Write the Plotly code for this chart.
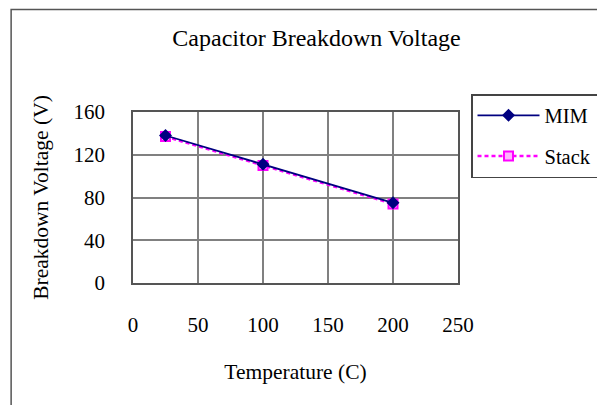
import plotly.graph_objects as go

temperature = [25, 100, 200]
mim_voltage = [138, 111, 75]
stack_voltage = [137, 110, 74]

x_ticks = [0, 50, 100, 150, 200, 250]
y_ticks = [0, 40, 80, 120, 160]

FONT = "Liberation Serif, Times New Roman, serif"

fig = go.Figure()
fig.add_trace(go.Scatter(
    x=temperature, y=stack_voltage, name="Stack", mode="lines+markers",
    line=dict(color="#ff00ff", width=2.5, dash="4px,3px"),
    marker=dict(symbol="square", size=9, color="#ffb3ff",
                line=dict(color="#ff00ff", width=2)),
    legendrank=2, legendgroup="b",
))
fig.add_trace(go.Scatter(
    x=temperature, y=mim_voltage, name="MIM", mode="lines+markers",
    line=dict(color="#000080", width=1.8),
    marker=dict(symbol="diamond", size=10, color="#000080"),
    legendrank=1, legendgroup="a",
))

fig.update_layout(
    width=605, height=405,
    margin=dict(l=125, r=155, t=104, b=130),
    paper_bgcolor="white", plot_bgcolor="white",
    font=dict(family=FONT, size=21, color="black"),
    title=dict(text="Capacitor Breakdown Voltage", x=0.51, xanchor="center",
               y=0.926, yanchor="middle", font=dict(family=FONT, size=24)),
    showlegend=True,
    legend=dict(x=1.04, y=1.105, xanchor="left", yanchor="top",
                bordercolor="#444444", borderwidth=1.5,
                font=dict(family=FONT, size=20.5), tracegroupgap=11,
                itemwidth=62, bgcolor="white"),
    xaxis=dict(range=[0, 250], tickvals=x_ticks, ticks="",
               tickfont=dict(family=FONT, size=21),
               showgrid=True, gridcolor="#808080", gridwidth=1.5,
               showline=True, linecolor="#555555", linewidth=1.5, mirror=True,
               zeroline=False, ticklabelstandoff=22,
               title=dict(text="Temperature (C)", standoff=28,
                          font=dict(family=FONT, size=21.5))),
    yaxis=dict(range=[0, 160], tickvals=y_ticks, ticks="",
               tickfont=dict(family=FONT, size=21),
               showgrid=True, gridcolor="#808080", gridwidth=1.5,
               showline=True, linecolor="#555555", linewidth=1.5, mirror=True,
               zeroline=False, ticklabelstandoff=22,
               title=dict(text="Breakdown Voltage (V)", standoff=19,
                          font=dict(family=FONT, size=21.5))),
)

fig.add_shape(type="rect", xref="paper", yref="paper",
              x0=-0.375, x1=1.47, y0=-0.8, y1=1.6,
              line=dict(color="#555555", width=1.5), fillcolor="rgba(0,0,0,0)",
              layer="below")

fig.write_html("out.html")
